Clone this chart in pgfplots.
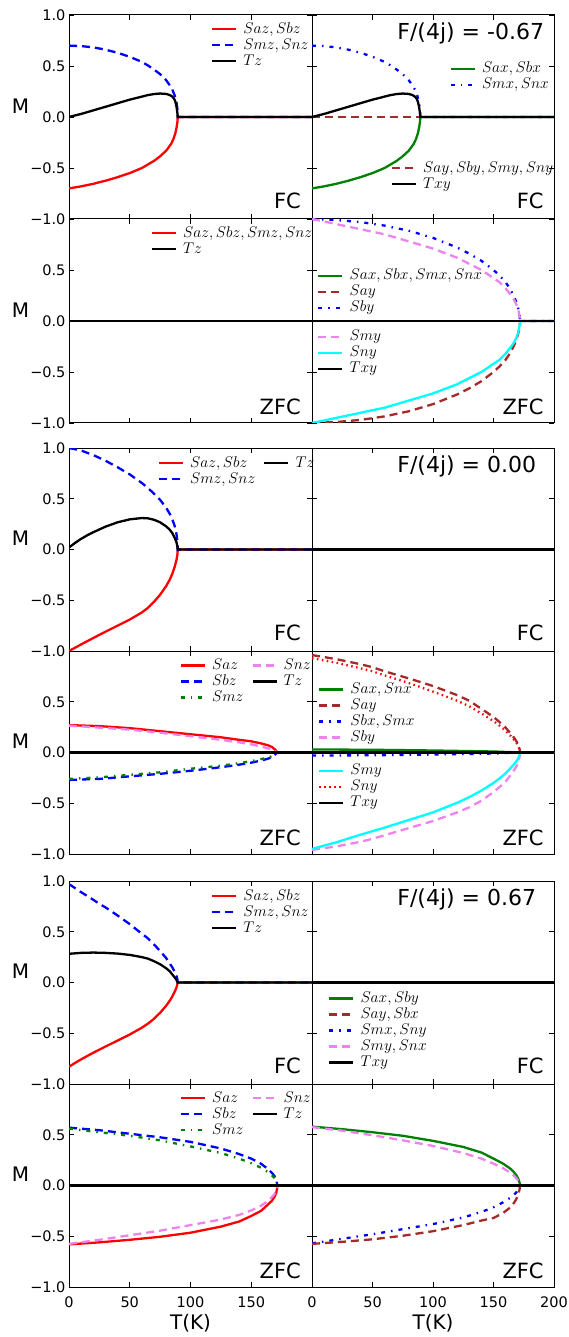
\RequirePackage{fix-cm}
\documentclass[border=0pt]{standalone}
\usepackage{fontspec}
\setmainfont{DejaVu Sans}
\usepackage{pgfplots}
\pgfplotsset{compat=1.18}

\definecolor{mred}{HTML}{FF0000}
\definecolor{mblue}{HTML}{0000FF}
\definecolor{mgreen}{HTML}{008000}
\definecolor{mbrown}{HTML}{A52A2A}
\definecolor{mviolet}{HTML}{EE82EE}
\definecolor{mcyan}{HTML}{00FFFF}

\tikzset{
  sol/.style={line width=2.3pt},
  dsh/.style={line width=2.3pt, dash pattern=on 8pt off 5pt},
  dd/.style={line width=2.3pt, dash pattern=on 4pt off 6pt on 1.5pt off 6pt},
  dot/.style={line width=2.3pt, dash pattern=on 1.5pt off 3.5pt},
  fcs/.style={anchor=east, font=\fontsize{21}{25}\selectfont, inner sep=0pt},
  tts/.style={anchor=west, font=\fontsize{22}{26}\selectfont, inner sep=0pt},
}

\pgfplotsset{
  legend image code/.code={\draw[#1] (0pt,0pt) -- (24pt,0pt);},
  base/.style={
    scale only axis, xmin=0, xmax=200, ymin=-1, ymax=1,
    xtick={0,50,100,150,200}, ytick={-1,-0.5,0,0.5,1},
    xticklabels={}, yticklabels={},
    tick align=inside, xtick pos=both, ytick pos=both,
    major tick length=5pt,
    tick style={black, line width=0.8pt},
    axis line style={line width=1pt},
    tick label style={font=\fontsize{14.5}{17}\selectfont},
    xticklabel shift=6pt,
    no markers,
  },
  L/.style={base, width=243pt, at={(69pt,#1)}, anchor=north west,
    ylabel={M},
    ylabel style={rotate=-90, at={(axis description cs:-0.2,0.555)}, anchor=center,
      font=\fontsize{20}{24}\selectfont}},
  R/.style={base, width=242pt, at={(312pt,#1)}, anchor=north west},
  leg/.style={legend cell align=left,
    legend style={draw=none, fill=none, inner sep=0pt, outer sep=0pt,
      at={#1}, anchor=north west, row sep=0pt,
      nodes={inner sep=1pt, text height=11pt, text depth=3pt,
        font=\fontsize{15.5}{18}\selectfont},
      /tikz/every odd column/.style={column sep=5pt},
      /tikz/every even column/.style={column sep=7pt}}},
  bottom/.style={xlabel={T(K)},
    xlabel style={at={(axis description cs:0.5,0)}, anchor=center, yshift=-36pt,
      font=\fontsize{20}{24}\selectfont}},
}

\begin{document}
\begin{tikzpicture}
\useasboundingbox (0pt,0pt) rectangle (569pt,-1337pt);

% ---------------- F/(4j) = -0.67, FC
\begin{axis}[L=-15pt, height=204pt, yticklabels={−1.0,−0.5,0.0,0.5,1.0}, leg={(0.585,0.97)}]
\addlegendimage{mred,sol}\addlegendentry{$Saz,Sbz$}
\addlegendimage{mblue,dsh}\addlegendentry{$Smz,Snz$}
\addlegendimage{black,sol}\addlegendentry{$Tz$}
\addplot[mred,sol] coordinates {(0,-0.70) (10,-0.68) (20,-0.655) (30,-0.625) (40,-0.59) (50,-0.55) (60,-0.50) (70,-0.43) (75,-0.385) (80,-0.33) (84,-0.265) (86,-0.215) (87.5,-0.16) (88.5,-0.105) (89.2,-0.05) (89.5,0) (200,0)};
\addplot[mblue,dsh] coordinates {(0,0.70) (10,0.695) (20,0.683) (30,0.66) (40,0.63) (50,0.59) (60,0.54) (65,0.505) (70,0.465) (75,0.42) (80,0.36) (83,0.31) (85,0.27) (87,0.21) (88.5,0.14) (89.2,0.08) (89.5,0) (200,0)};
\addplot[black,sol] coordinates {(0,0) (10,0.03) (20,0.065) (30,0.10) (40,0.135) (50,0.17) (60,0.20) (65,0.215) (70,0.225) (75,0.23) (80,0.226) (83,0.215) (85,0.20) (86.5,0.18) (87.5,0.15) (88.5,0.10) (89.2,0.04) (89.5,0) (200,0)};
\node[fcs] at (axis description cs:0.955,0.088) {FC};
\end{axis}

\begin{axis}[R=-15pt, height=204pt, leg={(0.569,0.775)}]
\addlegendimage{mgreen,sol}\addlegendentry{$Sax,Sbx$}
\addlegendimage{mblue,dd}\addlegendentry{$Smx,Snx$}
\addplot[mbrown,dsh] coordinates {(0,0) (200,0)};
\addplot[mgreen,sol] coordinates {(0,-0.70) (10,-0.68) (20,-0.655) (30,-0.625) (40,-0.59) (50,-0.55) (60,-0.50) (70,-0.43) (75,-0.385) (80,-0.33) (84,-0.265) (86,-0.215) (87.5,-0.16) (88.5,-0.105) (89.2,-0.05) (89.5,0) (200,0)};
\addplot[mblue,dd] coordinates {(0,0.70) (10,0.695) (20,0.683) (30,0.66) (40,0.63) (50,0.59) (60,0.54) (65,0.505) (70,0.465) (75,0.42) (80,0.36) (83,0.31) (85,0.27) (87,0.21) (88.5,0.14) (89.2,0.08) (89.5,0) (200,0)};
\addplot[black,sol] coordinates {(0,0) (10,0.03) (20,0.065) (30,0.10) (40,0.135) (50,0.17) (60,0.20) (65,0.215) (70,0.225) (75,0.23) (80,0.226) (83,0.215) (85,0.20) (86.5,0.18) (87.5,0.15) (88.5,0.10) (89.2,0.04) (89.5,0) (200,0)};
\node[tts] at (axis description cs:0.352,0.91) {F/(4j) = -0.67};
\node[fcs] at (axis description cs:0.958,0.088) {FC};
\end{axis}
\begin{axis}[R=-15pt, height=204pt, hide axis, leg={(0.326,0.289)}]
\addlegendimage{mbrown,dsh}\addlegendentry{$Say,Sby,Smy,Sny$}
\addlegendimage{black,sol}\addlegendentry{$Txy$}
\end{axis}

% ---------------- F/(4j) = -0.67, ZFC
\begin{axis}[L=-219pt, height=204pt, yticklabels={−1.0,−0.5,0.0,0.5,{}}, leg={(0.337,0.97)}]
\addlegendimage{mred,sol}\addlegendentry{$Saz,Sbz,Smz,Snz$}
\addlegendimage{black,sol}\addlegendentry{$Tz$}
\addplot[mred,sol] coordinates {(0,0) (200,0)};
\addplot[black,sol] coordinates {(0,0) (200,0)};
\node[fcs] at (axis description cs:0.955,0.078) {ZFC};
\end{axis}

\begin{axis}[R=-219pt, height=204pt, leg={(0.022,0.761)}]
\addlegendimage{mgreen,sol}\addlegendentry{$Sax,Sbx,Smx,Snx$}
\addlegendimage{mbrown,dsh}\addlegendentry{$Say$}
\addlegendimage{mblue,dd}\addlegendentry{$Sby$}
\addplot[mgreen,sol] coordinates {(0,0) (200,0)};
\addplot[mbrown,dsh] coordinates {(0,-1.0) (20,-0.99) (40,-0.97) (60,-0.935) (80,-0.885) (100,-0.815) (120,-0.72) (130,-0.66) (140,-0.59) (150,-0.50) (155,-0.445) (160,-0.38) (164,-0.31) (167,-0.24) (169,-0.18) (170.5,-0.12) (171.5,-0.06) (172,0) (200,0)};
\addplot[mblue,dd] coordinates {(0,1.0) (20,0.99) (40,0.97) (60,0.935) (80,0.885) (100,0.815) (120,0.72) (130,0.66) (140,0.59) (150,0.50) (155,0.445) (160,0.38) (164,0.31) (167,0.24) (169,0.18) (170.5,0.12) (171.5,0.06) (172,0) (200,0)};
\addplot[mviolet,dsh] coordinates {(0,1.0) (20,0.95) (40,0.90) (60,0.85) (80,0.78) (100,0.71) (120,0.62) (130,0.56) (140,0.50) (150,0.42) (155,0.38) (160,0.32) (164,0.26) (167,0.21) (169,0.16) (170.5,0.11) (171.5,0.05) (172,0) (200,0)};
\addplot[mcyan,sol] coordinates {(0,-1.0) (20,-0.95) (40,-0.90) (60,-0.85) (80,-0.78) (100,-0.71) (120,-0.62) (130,-0.56) (140,-0.50) (150,-0.42) (155,-0.38) (160,-0.32) (164,-0.26) (167,-0.21) (169,-0.16) (170.5,-0.11) (171.5,-0.05) (172,0) (200,0)};
\addplot[black,sol] coordinates {(0,0) (200,0)};
\node[fcs] at (axis description cs:0.958,0.078) {ZFC};
\end{axis}
\begin{axis}[R=-219pt, height=204pt, hide axis, leg={(0.022,0.461)}]
\addlegendimage{mviolet,dsh}\addlegendentry{$Smy$}
\addlegendimage{mcyan,sol}\addlegendentry{$Sny$}
\addlegendimage{black,sol}\addlegendentry{$Txy$}
\end{axis}

% ---------------- F/(4j) = 0.00, FC
\begin{axis}[L=-448pt, height=203pt, yticklabels={−1.0,−0.5,0.0,0.5,1.0}, leg={(0.366,0.965)}, legend columns=2]
\addlegendimage{mred,sol}\addlegendentry{$Saz,Sbz$}
\addlegendimage{black,sol}\addlegendentry{$Tz$}
\addlegendimage{mblue,dsh}\addlegendentry{$Smz,Snz$}
\addplot[mred,sol] coordinates {(0,-1.0) (10,-0.935) (20,-0.872) (30,-0.81) (40,-0.75) (50,-0.69) (60,-0.62) (65,-0.575) (70,-0.515) (75,-0.445) (80,-0.36) (83,-0.295) (85,-0.24) (87,-0.17) (88.5,-0.10) (89.2,-0.05) (89.5,0) (200,0)};
\addplot[mblue,dsh] coordinates {(0,1.0) (10,0.975) (20,0.93) (30,0.875) (40,0.81) (50,0.74) (60,0.655) (65,0.605) (70,0.55) (75,0.49) (80,0.41) (83,0.35) (85,0.30) (87,0.23) (88.5,0.15) (89.2,0.08) (89.5,0) (200,0)};
\addplot[black,sol] coordinates {(0,0.02) (5,0.065) (10,0.105) (15,0.14) (20,0.17) (30,0.225) (40,0.268) (50,0.297) (60,0.31) (65,0.307) (70,0.293) (75,0.268) (80,0.228) (83,0.193) (85,0.162) (87,0.115) (88.5,0.07) (89.2,0.03) (89.5,0) (200,0)};
\node[fcs] at (axis description cs:0.955,0.088) {FC};
\end{axis}

\begin{axis}[R=-448pt, height=203pt]
\addplot[mgreen,sol] coordinates {(0,0) (200,0)};
\addplot[black,sol] coordinates {(0,0) (200,0)};
\node[tts] at (axis description cs:0.352,0.908) {F/(4j) = 0.00};
\node[fcs] at (axis description cs:0.958,0.088) {FC};
\end{axis}

% ---------------- F/(4j) = 0.00, ZFC
\begin{axis}[L=-651pt, height=203pt, yticklabels={−1.0,−0.5,0.0,0.5,{}}, leg={(0.456,0.968)}, legend columns=2]
\addlegendimage{mred,sol}\addlegendentry{$Saz$}
\addlegendimage{mviolet,dsh}\addlegendentry{$Snz$}
\addlegendimage{mblue,dsh}\addlegendentry{$Sbz$}
\addlegendimage{black,sol}\addlegendentry{$Tz$}
\addlegendimage{mgreen,dd}\addlegendentry{$Smz$}
\addplot[mred,sol] coordinates {(0,0.27) (25,0.26) (50,0.24) (75,0.21) (100,0.18) (125,0.15) (140,0.125) (150,0.11) (158,0.09) (164,0.07) (167,0.055) (170,0.025) (171,0.01) (171.5,0) (200,0)};
\addplot[mviolet,dsh] coordinates {(0,0.265) (25,0.245) (50,0.225) (75,0.195) (100,0.16) (125,0.125) (140,0.10) (150,0.08) (158,0.06) (164,0.04) (168,0.025) (171,0.005) (171.5,0) (200,0)};
\addplot[mblue,dsh] coordinates {(0,-0.27) (25,-0.26) (50,-0.235) (75,-0.21) (100,-0.18) (125,-0.145) (140,-0.12) (150,-0.10) (158,-0.08) (164,-0.06) (167,-0.045) (171.5,0) (200,0)};
\addplot[mgreen,dd] coordinates {(0,-0.26) (25,-0.245) (50,-0.22) (75,-0.195) (100,-0.16) (125,-0.13) (140,-0.105) (150,-0.085) (158,-0.065) (164,-0.05) (167,-0.035) (171.5,0) (200,0)};
\addplot[black,sol] coordinates {(0,0) (200,0)};
\node[fcs] at (axis description cs:0.955,0.078) {ZFC};
\end{axis}

\begin{axis}[R=-651pt, height=203pt, leg={(0.025,0.85)}]
\addlegendimage{mgreen,sol}\addlegendentry{$Sax,Snx$}
\addlegendimage{mbrown,dsh}\addlegendentry{$Say$}
\addlegendimage{mblue,dd}\addlegendentry{$Sbx,Smx$}
\addlegendimage{mviolet,dsh}\addlegendentry{$Sby$}
\addplot[mgreen,sol] coordinates {(0,0.03) (50,0.027) (100,0.02) (150,0.01) (172,0) (200,0)};
\addplot[mblue,dd] coordinates {(0,-0.03) (50,-0.027) (100,-0.02) (150,-0.01) (172,0) (200,0)};
\addplot[mbrown,dsh] coordinates {(0,0.96) (20,0.92) (40,0.87) (50,0.84) (60,0.80) (80,0.73) (100,0.655) (120,0.565) (130,0.51) (140,0.43) (150,0.35) (155,0.30) (160,0.245) (164,0.19) (167,0.145) (169,0.11) (170.5,0.075) (171.5,0.035) (172,0) (200,0)};
\addplot[mred,dot] coordinates {(0,0.93) (20,0.885) (40,0.83) (50,0.80) (60,0.76) (80,0.685) (100,0.60) (120,0.51) (130,0.455) (140,0.385) (150,0.31) (155,0.265) (160,0.215) (164,0.165) (167,0.125) (169,0.095) (170.5,0.06) (171.5,0.03) (172,0) (200,0)};
\addplot[mviolet,dsh] coordinates {(0,-0.96) (20,-0.925) (40,-0.88) (50,-0.85) (60,-0.815) (80,-0.745) (100,-0.675) (120,-0.59) (130,-0.54) (140,-0.475) (150,-0.39) (155,-0.34) (160,-0.285) (164,-0.225) (167,-0.175) (169,-0.135) (170.5,-0.09) (171.5,-0.045) (172,0) (200,0)};
\addplot[mcyan,sol] coordinates {(0,-0.95) (20,-0.885) (40,-0.81) (50,-0.775) (60,-0.74) (80,-0.665) (100,-0.59) (120,-0.495) (130,-0.44) (140,-0.375) (150,-0.30) (155,-0.255) (160,-0.205) (164,-0.155) (167,-0.115) (169,-0.085) (170.5,-0.055) (171.5,-0.025) (172,0) (200,0)};
\addplot[black,sol] coordinates {(0,0) (200,0)};
\node[fcs] at (axis description cs:0.958,0.078) {ZFC};
\end{axis}
\begin{axis}[R=-651pt, height=203pt, hide axis, leg={(0.025,0.449)}]
\addlegendimage{mcyan,sol}\addlegendentry{$Smy$}
\addlegendimage{mred,dot}\addlegendentry{$Sny$}
\addlegendimage{black,sol}\addlegendentry{$Txy$}
\end{axis}

% ---------------- F/(4j) = 0.67, FC
\begin{axis}[L=-881pt, height=203pt, yticklabels={−1.0,−0.5,0.0,0.5,1.0}, leg={(0.585,0.965)}]
\addlegendimage{mred,sol}\addlegendentry{$Saz,Sbz$}
\addlegendimage{mblue,dsh}\addlegendentry{$Smz,Snz$}
\addlegendimage{black,sol}\addlegendentry{$Tz$}
\addplot[mred,sol] coordinates {(0,-0.83) (5,-0.792) (10,-0.757) (15,-0.724) (20,-0.692) (25,-0.661) (30,-0.631) (40,-0.572) (50,-0.512) (60,-0.445) (65,-0.405) (70,-0.357) (75,-0.298) (80,-0.228) (83,-0.178) (85,-0.138) (87,-0.09) (88.5,-0.048) (89.5,0) (200,0)};
\addplot[mblue,dsh] coordinates {(0,0.97) (10,0.89) (20,0.815) (25,0.775) (30,0.74) (40,0.66) (50,0.575) (60,0.48) (65,0.435) (70,0.375) (75,0.31) (80,0.24) (83,0.185) (85,0.15) (87,0.105) (88.5,0.065) (89.2,0.03) (89.5,0) (200,0)};
\addplot[black,sol] coordinates {(0,0.283) (10,0.292) (20,0.295) (30,0.292) (40,0.285) (50,0.272) (60,0.25) (65,0.235) (68,0.22) (70,0.21) (75,0.18) (80,0.14) (83,0.11) (85,0.08) (87,0.05) (88.5,0.025) (89.5,0) (200,0)};
\node[fcs] at (axis description cs:0.955,0.088) {FC};
\end{axis}

\begin{axis}[R=-881pt, height=203pt, leg={(0.067,0.46)}]
\addlegendimage{mgreen,sol}\addlegendentry{$Sax,Sby$}
\addlegendimage{mbrown,dsh}\addlegendentry{$Say,Sbx$}
\addlegendimage{mblue,dd}\addlegendentry{$Smx,Sny$}
\addlegendimage{mviolet,dsh}\addlegendentry{$Smy,Snx$}
\addlegendimage{black,sol}\addlegendentry{$Txy$}
\addplot[mgreen,sol] coordinates {(0,0) (200,0)};
\addplot[mbrown,dsh] coordinates {(0,0) (200,0)};
\addplot[mblue,dd] coordinates {(0,0) (200,0)};
\addplot[mviolet,dsh] coordinates {(0,0) (200,0)};
\addplot[black,sol] coordinates {(0,0) (200,0)};
\node[tts] at (axis description cs:0.352,0.91) {F/(4j) = 0.67};
\node[fcs] at (axis description cs:0.958,0.088) {FC};
\end{axis}

% ---------------- F/(4j) = 0.67, ZFC
\begin{axis}[L=-1084pt, height=203pt, bottom, yticklabels={−1.0,−0.5,0.0,0.5,{}}, xticklabels={0,50,100,150,{}}, leg={(0.456,0.97)}, legend columns=2]
\addlegendimage{mred,sol}\addlegendentry{$Saz$}
\addlegendimage{mviolet,dsh}\addlegendentry{$Snz$}
\addlegendimage{mblue,dsh}\addlegendentry{$Sbz$}
\addlegendimage{black,sol}\addlegendentry{$Tz$}
\addlegendimage{mgreen,dd}\addlegendentry{$Smz$}
\addplot[mblue,dsh] coordinates {(0,0.57) (25,0.545) (50,0.51) (75,0.475) (100,0.43) (125,0.365) (140,0.31) (150,0.265) (158,0.215) (164,0.16) (167,0.125) (169,0.095) (170.5,0.06) (171.5,0) (200,0)};
\addplot[mgreen,dd] coordinates {(0,0.56) (25,0.525) (50,0.49) (75,0.445) (100,0.385) (125,0.32) (140,0.265) (150,0.22) (158,0.175) (164,0.13) (167,0.10) (169,0.075) (170.5,0.045) (171.5,0) (200,0)};
\addplot[mred,sol] coordinates {(0,-0.58) (25,-0.56) (50,-0.535) (75,-0.505) (100,-0.465) (125,-0.405) (140,-0.355) (150,-0.30) (158,-0.25) (164,-0.185) (167,-0.15) (169,-0.115) (170.5,-0.075) (171.2,-0.035) (171.5,0) (200,0)};
\addplot[mviolet,dsh] coordinates {(0,-0.575) (25,-0.535) (50,-0.49) (75,-0.445) (100,-0.39) (125,-0.335) (140,-0.29) (150,-0.245) (158,-0.2) (164,-0.15) (167,-0.115) (169,-0.085) (170.5,-0.05) (171.5,0) (200,0)};
\addplot[black,sol] coordinates {(0,0) (200,0)};
\node[fcs] at (axis description cs:0.955,0.078) {ZFC};
\end{axis}

\begin{axis}[R=-1084pt, height=203pt, bottom, xticklabels={0,50,100,150,200}]
\addplot[mgreen,sol] coordinates {(0,0.58) (25,0.555) (50,0.525) (75,0.49) (100,0.44) (125,0.38) (140,0.325) (150,0.265) (158,0.215) (164,0.165) (167,0.13) (169,0.10) (170.5,0.065) (171.5,0.03) (172,0) (200,0)};
\addplot[mviolet,dsh] coordinates {(0,0.575) (25,0.54) (50,0.495) (75,0.445) (100,0.39) (125,0.32) (140,0.265) (150,0.215) (158,0.17) (164,0.125) (167,0.095) (169,0.07) (170.5,0.045) (171.5,0.02) (172,0) (200,0)};
\addplot[mblue,dd] coordinates {(0,-0.57) (25,-0.525) (50,-0.48) (75,-0.43) (100,-0.38) (125,-0.315) (140,-0.26) (150,-0.215) (158,-0.165) (164,-0.12) (167,-0.09) (169,-0.065) (170.5,-0.04) (172,0) (200,0)};
\addplot[mbrown,dsh] coordinates {(0,-0.575) (25,-0.555) (50,-0.53) (75,-0.495) (100,-0.45) (125,-0.39) (140,-0.345) (150,-0.32) (158,-0.27) (164,-0.215) (167,-0.17) (169,-0.13) (170.5,-0.085) (171.5,-0.04) (172,0) (200,0)};
\addplot[black,sol] coordinates {(0,0) (200,0)};
\node[fcs] at (axis description cs:0.958,0.078) {ZFC};
\end{axis}

\end{tikzpicture}
\end{document}
